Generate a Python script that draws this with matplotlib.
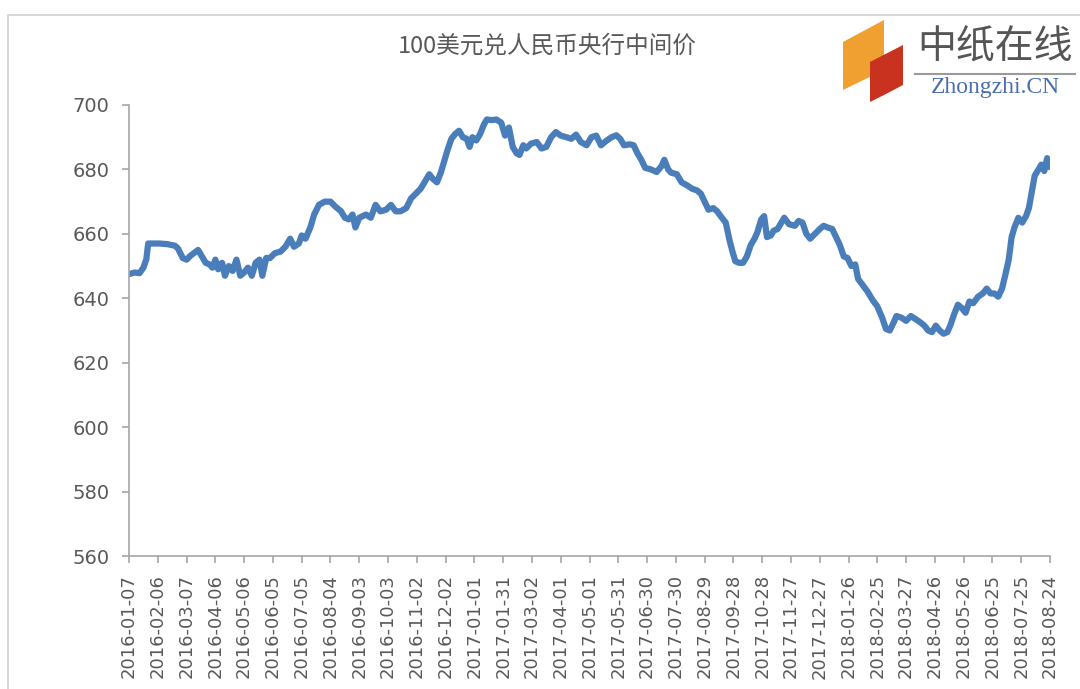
import numpy as np
import pandas as pd
import matplotlib
matplotlib.use("Agg")
import matplotlib.pyplot as plt
from matplotlib.patches import Polygon, Rectangle

# values: days after the first date, rate per 100 USD
start_date = pd.Timestamp("2016-01-07")
day_offset = [
    0, 6, 11, 15, 18, 20, 32, 40, 48, 51, 56, 60, 64, 72, 76, 80, 84, 87, 90, 93,
    97, 100, 104, 108, 112, 116, 120, 124, 128, 132, 136, 139, 143, 147, 152, 158,
    163, 168, 172, 177, 180, 184, 189, 193, 198, 204, 210, 215, 221, 225, 229, 233,
    236, 240, 247, 252, 257, 262, 268, 273, 278, 283, 289, 294, 299, 304, 308, 313,
    317, 321, 325, 328, 332, 336, 340, 344, 348, 352, 355, 358, 362, 366, 370, 373,
    378, 383, 388, 392, 396, 400, 404, 407, 411, 414, 419, 425, 430, 435, 440, 445,
    450, 456, 461, 466, 471, 477, 482, 487, 492, 498, 503, 508, 512, 516, 522, 526,
    530, 534, 538, 544, 550, 555, 558, 562, 565, 571, 576, 582, 587, 592, 596, 600,
    604, 609, 613, 618, 622, 626, 629, 632, 636, 640, 644, 648, 652, 655, 659, 662,
    665, 669, 672, 676, 680, 683, 688, 694, 698, 702, 706, 710, 715, 720, 724, 728,
    733, 737, 741, 745, 749, 753, 757, 760, 765, 770, 775, 780, 785, 789, 793, 797,
    800, 805, 810, 815, 820, 825, 829, 833, 837, 841, 845, 849, 853, 856, 860, 864,
    868, 872, 876, 880, 885, 890, 894, 898, 902, 906, 910, 914, 917, 920, 923, 927,
    931, 935, 938, 941, 944, 948, 951, 954, 957, 960,
]
rate = [
    647.5, 648.0, 647.8, 649.5, 652.0, 657.0, 657.0, 656.8, 656.3, 655.5, 652.5, 652.0,
    653.2, 655.0, 653.0, 651.0, 650.5, 649.5, 652.0, 649.0, 651.0, 647.0, 650.0, 648.5,
    652.0, 647.0, 648.0, 649.5, 647.0, 651.0, 652.0, 647.0, 652.5, 652.5, 654.0, 654.5,
    656.0, 658.5, 656.0, 657.0, 659.5, 658.5, 662.0, 666.0, 669.0, 670.0, 670.0, 668.5,
    667.0, 665.0, 664.5, 666.0, 662.0, 665.0, 666.0, 665.0, 669.0, 667.0, 667.5, 669.0,
    667.0, 667.0, 668.0, 671.0, 672.5, 674.0, 676.0, 678.5, 677.0, 676.0, 679.0, 682.0,
    686.0, 689.5, 691.0, 692.0, 690.0, 689.5, 687.0, 690.0, 689.0, 691.0, 694.0, 695.5,
    695.3, 695.5, 694.5, 690.5, 693.0, 687.0, 685.0, 684.5, 687.5, 686.5, 688.0, 688.5,
    686.5, 687.0, 690.0, 691.6, 690.5, 690.0, 689.5, 690.8, 688.5, 687.5, 690.0, 690.5,
    687.5, 689.0, 690.0, 690.6, 689.5, 687.5, 687.8, 687.5, 685.0, 683.0, 680.5, 680.0,
    679.2, 681.0, 683.0, 680.0, 679.0, 678.5, 676.0, 675.0, 674.0, 673.5, 672.5, 670.0,
    667.5, 668.0, 667.0, 665.0, 663.5, 658.0, 654.5, 651.5, 651.0, 651.0, 653.0, 656.5,
    658.5, 660.5, 664.5, 665.5, 659.0, 659.5, 661.0, 661.5, 663.5, 665.0, 663.0, 662.5,
    664.0, 663.5, 660.0, 658.5, 660.0, 661.5, 662.5, 662.0, 661.5, 659.0, 656.5, 653.0,
    652.5, 650.0, 650.5, 646.0, 644.0, 642.0, 639.5, 637.5, 634.0, 630.5, 630.0, 632.5,
    634.5, 634.0, 633.0, 634.5, 633.5, 632.5, 631.5, 630.0, 629.5, 631.5, 630.0, 629.0,
    629.5, 631.5, 635.0, 638.0, 637.0, 635.5, 639.0, 638.5, 640.5, 641.5, 643.0, 641.5,
    641.5, 640.5, 643.0, 648.0, 652.0, 659.0, 662.0, 665.0, 663.5, 665.5, 668.0, 673.0,
    678.0, 680.0, 681.5, 679.5, 683.5, 681.0,
]
title = "100美元兑人民币央行中间价"
y_ticks = [560, 580, 600, 620, 640, 660, 680, 700]
tick_days = list(range(0, 961, 30))
tick_labels = [(start_date + pd.Timedelta(days=d)).strftime("%Y-%m-%d") for d in tick_days]

line_color = "#4a7ebb"
text_color = "#595959"
axis_color = "#a6a6a6"

fig = plt.figure(figsize=(10.8, 6.89), dpi=100)
fig.patch.set_facecolor("white")

# thin frame around the chart area
fig.patches.append(Rectangle((8 / 1080, -0.01), 1.1, 1 - 15 / 689 + 0.01,
                             transform=fig.transFigure, fill=False,
                             edgecolor="#d0d0d0", linewidth=1.2))

ax = fig.add_axes([129 / 1080, 1 - 556 / 689, (1050 - 129) / 1080, (556 - 105) / 689])
ax.plot(day_offset, rate, color=line_color, linewidth=4.5, solid_joinstyle="round")

ax.set_xlim(0, 960)
ax.set_ylim(560, 700)
ax.set_yticks(y_ticks)
ax.set_xticks(tick_days)
ax.set_xticklabels(tick_labels, rotation=90, va="top", ha="center")

for side in ["top", "right"]:
    ax.spines[side].set_visible(False)
for side in ["left", "bottom"]:
    ax.spines[side].set_color(axis_color)
    ax.spines[side].set_linewidth(1.2)

ax.tick_params(axis="y", direction="out", length=5, width=1.2, color=axis_color,
               labelcolor=text_color, labelsize=14, pad=9)
ax.tick_params(axis="x", direction="out", length=5, width=1.2, color=axis_color,
               labelcolor=text_color, labelsize=13, pad=8)

fig.text(547 / 1080, 1 - 46 / 689, title, ha="center", va="center", fontsize=17,
         color=text_color, family=["Noto Sans CJK SC", "DejaVu Sans"])

# logo in the top right corner
def px(x, y):
    return (x / 1080, 1 - y / 689)

orange = Polygon([px(843, 42), px(884, 20), px(884, 70), px(843, 90)],
                 closed=True, transform=fig.transFigure, facecolor="#f0a030",
                 edgecolor="none")
red = Polygon([px(870, 62), px(903, 45), px(903, 85), px(884, 95), px(870, 102)],
              closed=True, transform=fig.transFigure, facecolor="#c8321e",
              edgecolor="none")
fig.patches.extend([orange, red])
fig.text(995 / 1080, 1 - 48 / 689, "中纸在线", ha="center", va="center",
         fontsize=28, color="#555555", family=["Noto Sans CJK SC", "DejaVu Sans"])
fig.lines.append(plt.Line2D([915 / 1080, 1075 / 1080], [1 - 74 / 689, 1 - 74 / 689],
                            transform=fig.transFigure, color="#9a9a9a", linewidth=1.5))
fig.text(995 / 1080, 1 - 87 / 689, "Zhongzhi.CN", ha="center", va="center",
         fontsize=17, color="#4a6fb0", family="Liberation Serif")

fig.savefig("out.png", dpi=100)
